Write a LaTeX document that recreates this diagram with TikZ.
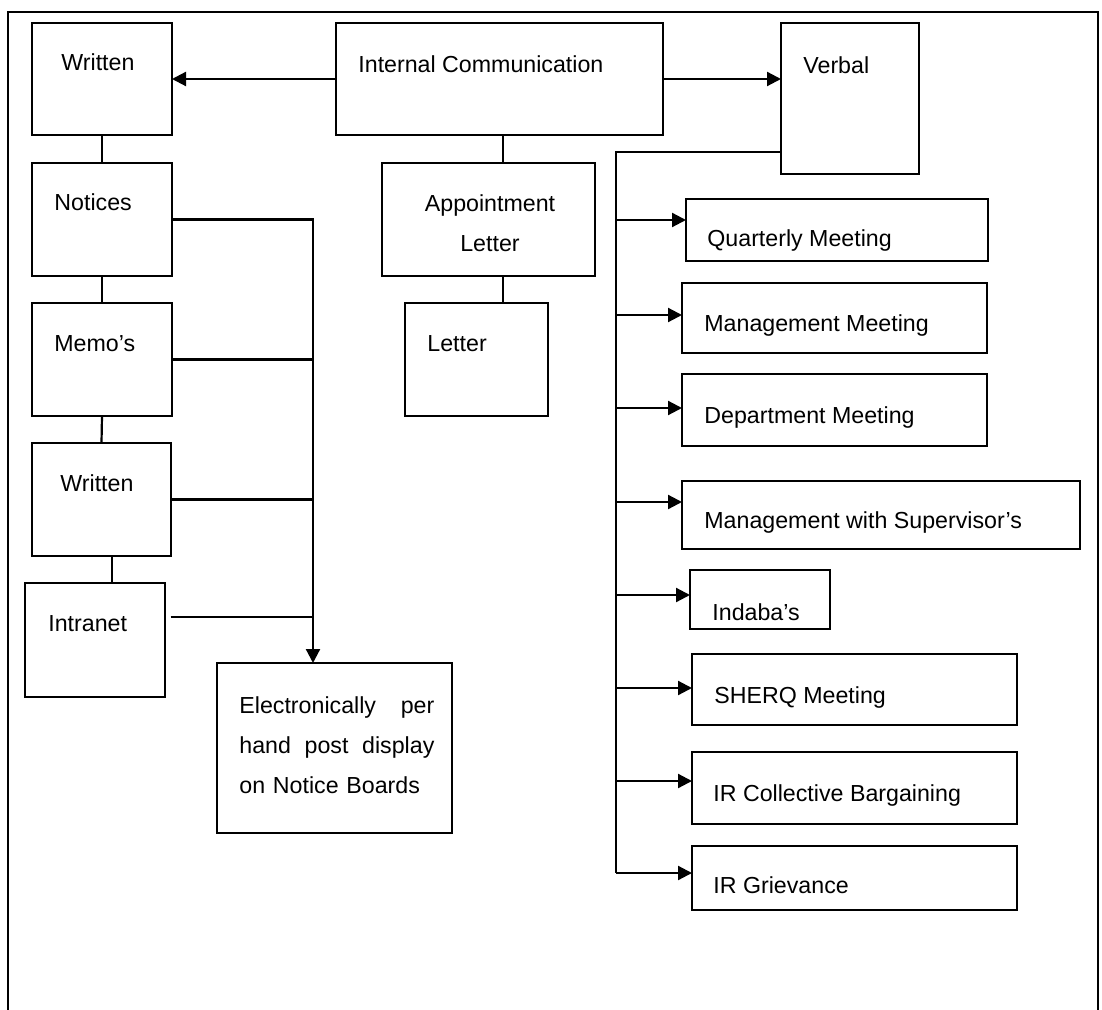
\documentclass[tikz,border=0pt]{standalone}
\usepackage{fontspec}
\setmainfont{Liberation Sans}
\usepackage{tikz}
\usetikzlibrary{arrows.meta}
\tikzstyle{box} = [draw, line width=1.3pt, inner sep=0pt, outer sep=0pt]
\tikzstyle{txt} = [inner sep=0pt, anchor=base west, font=\fontsize{11.6pt}{20pt}\selectfont]
\tikzstyle{link} = [line width=1.1pt]
\tikzstyle{arrow} = [link, ->]

\begin{document}
\begin{tikzpicture}[x=0.5pt,y=-0.5pt,>={Triangle[length=7pt,width=7pt]}]
\useasboundingbox (0,0) rectangle (1102,1010);
\draw[line width=1pt] (8,1014) -- (8,12) -- (1098,12) -- (1098,1014);

% boxes
\node[box, minimum width=70pt, minimum height=56pt] (written) at (102,79) {};
\node[box, minimum width=163.5pt, minimum height=56pt] (internal) at (499.5,79) {};
\node[box, minimum width=69pt, minimum height=75.5pt] (verbal) at (850,98.5) {};
\node[box, minimum width=70pt, minimum height=56.5pt] (notices) at (102,219.5) {};
\node[box, minimum width=106.5pt, minimum height=56.5pt] (appoint) at (488.5,219.5) {};
\node[box, minimum width=70pt, minimum height=56.5pt] (memos) at (102,359.5) {};
\node[box, minimum width=71.5pt, minimum height=56.5pt] (letter) at (476.5,359.5) {};
\node[box, minimum width=69.5pt, minimum height=56.5pt] (written2) at (101.5,499.5) {};
\node[box, minimum width=70pt, minimum height=57pt] (intranet) at (95,640) {};
\node[box, minimum width=117.5pt, minimum height=85pt] (elec) at (334.5,748) {};
\node[box, minimum width=151pt, minimum height=31pt] (quarterly) at (837,230) {};
\node[box, minimum width=152.5pt, minimum height=35pt] (mgmt) at (834.5,318) {};
\node[box, minimum width=152.5pt, minimum height=36pt] (dept) at (834.5,410) {};
\node[box, minimum width=199pt, minimum height=34pt] (super) at (881,515) {};
\node[box, minimum width=70pt, minimum height=29.5pt] (indaba) at (760,599.5) {};
\node[box, minimum width=162.5pt, minimum height=35.5pt] (sherq) at (854.5,689.5) {};
\node[box, minimum width=162.5pt, minimum height=36pt] (ircb) at (854.5,788) {};
\node[box, minimum width=162.5pt, minimum height=32pt] (irg) at (854.5,878) {};

% texts
\node[txt] (writtentxt) at (61,71) {Written};
\node[txt] (internaltxt) at (358,73) {Internal Communication};
\node[txt] (verbaltxt) at (803,74) {Verbal};
\node[txt] (noticestxt) at (54,211) {Notices};
\node[txt, anchor=center, align=center] (appointtxt) at (490,223) {Appointment\\Letter};
\node[txt] (memostxt) at (54,351) {Memo's};
\node[txt] (lettertxt) at (427,351) {Letter};
\node[txt] (written2txt) at (60,491) {Written};
\node[txt] (intranettxt) at (48,631) {Intranet};
\node[txt, anchor=west, text width=97.5pt, align=left] (electxt) at (239,745)
  {Electronically\hfill per\\hand\hfill post\hfill display\\on Notice Boards};
\node[txt] (quarterlytxt) at (707,247) {Quarterly Meeting};
\node[txt] (mgmttxt) at (704,332) {Management Meeting};
\node[txt] (depttxt) at (704,423) {Department Meeting};
\node[txt] (supertxt) at (704,528) {Management with Supervisor's};
\node[txt] (indabatxt) at (712,620) {Indaba's};
\node[txt] (sherqtxt) at (714,703) {SHERQ Meeting};
\node[txt] (ircbtxt) at (713,801) {IR Collective Bargaining};
\node[txt] (irgtxt) at (713,893) {IR Grievance};

% written side
\coordinate (wbus) at ([xshift=-10.75pt]elec.north);
\draw[arrow] (internal.west) -- (written.east);
\draw[arrow] (internal.east) -- (internal.east -| verbal.west);
\draw[link] (written.south) -- (notices.north);
\draw[link] (notices.south) -- (memos.north);
\draw[link] (memos.south) -- (written2.north);
\draw[link] (written2.south -| 112,0) -- (intranet.north -| 112,0);
\draw[link] (internal.south -| 503,0) -- (appoint.north -| 503,0);
\draw[link] (appoint.south -| 503,0) -- (letter.north -| 503,0);
\draw[arrow] (notices.east) -| (wbus);
\draw[link] (memos.east) -- (memos.east -| wbus);
\draw[link] (written2.east) -- (written2.east -| wbus);
\draw[link, shorten <=2.75pt] (intranet.east |- 0,617) -- (wbus |- 0,617);

% verbal side
\coordinate (vbus) at (616,152);
\draw[link] (verbal.west |- vbus) -- (vbus) -- (vbus |- 0,873);
\foreach \n/\y in {quarterly/220, mgmt/315, dept/408, super/502, indaba/595, sherq/688, ircb/781, irg/873}
  \draw[arrow] (vbus |- 0,\y) -- (\n.west |- 0,\y);
\end{tikzpicture}
\end{document}
